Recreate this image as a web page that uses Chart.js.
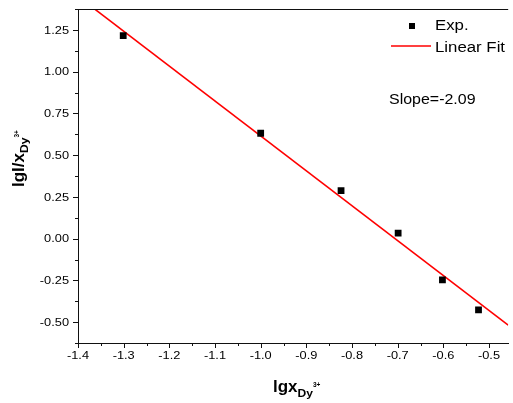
<!DOCTYPE html>
<html>
<head>
<meta charset="utf-8">
<script src="https://cdn.jsdelivr.net/npm/chart.js@4.4.1/dist/chart.umd.min.js"></script>
<style>
  html, body { margin: 0; padding: 0; background: #fff; overflow: hidden; }
  #wrap { width: 513px; height: 403px; position: relative; }
</style>
</head>
<body>
<div id="wrap"><canvas id="c" width="513" height="403"></canvas></div>
<script>
// Measured points: lg x(Dy3+) against lg(I / x(Dy3+))
const lgX = [-1.301, -1.000, -0.824, -0.699, -0.602, -0.523];
const lgIoverX = [1.216, 0.631, 0.288, 0.033, -0.247, -0.427];

// Linear fit of the points
const fitSlope = -2.09;
const fitIntercept = -1.475;
const fitRange = [-1.4, -0.458];

// Axis ticks
const xTicks = [-1.4, -1.3, -1.2, -1.1, -1.0, -0.9, -0.8, -0.7, -0.6, -0.5];
const xTickLabels = ['-1.4', '-1.3', '-1.2', '-1.1', '-1.0', '-0.9', '-0.8', '-0.7', '-0.6', '-0.5'];
const yTicks = [-0.5, -0.25, 0, 0.25, 0.5, 0.75, 1.0, 1.25];
const yTickLabels = ['-0.50', '-0.25', '0.00', '0.25', '0.50', '0.75', '1.00', '1.25'];

const slopeText = 'Slope=' + fitSlope.toFixed(2);
const FONT = '"Liberation Sans", Arial, Helvetica, sans-serif';

const scatterPts = lgX.map((x, i) => ({ x: x, y: lgIoverX[i] }));
const fitPts = fitRange.map(x => ({ x: x, y: fitIntercept + fitSlope * x }));

// minor ticks sit halfway between the labelled ones
function withMinor(major, step, min, max) {
  const out = [];
  const eps = 1e-9;
  const first = Math.ceil((min - eps) / step);
  const last = Math.floor((max + eps) / step);
  for (let k = first; k <= last; k++) {
    const v = +(k * step).toFixed(6);
    const isMajor = major.some(m => Math.abs(m - v) < 1e-6);
    out.push({ value: v, major: isMajor });
  }
  return out;
}

function stretchedText(ctx, text, x, y, font, sx, align) {
  ctx.save();
  ctx.font = font;
  ctx.textAlign = align || 'left';
  ctx.textBaseline = 'alphabetic';
  ctx.translate(x, y);
  ctx.scale(sx, 1);
  ctx.fillText(text, 0, 0);
  ctx.restore();
}

// draws runs of text along one baseline; each run may shift up/down
function richText(ctx, runs) {
  let cx = 0;
  runs.forEach(r => {
    const sx = r.sx || 1;
    ctx.save();
    ctx.font = r.font;
    ctx.textAlign = 'left';
    ctx.textBaseline = 'alphabetic';
    const w = ctx.measureText(r.text).width * sx;
    ctx.translate(cx, r.dy || 0);
    ctx.scale(sx, 1);
    ctx.fillText(r.text, 0, 0);
    ctx.restore();
    cx += w;
  });
}

const titleRuns = (main) => [
  { text: main, font: 'bold 17px ' + FONT },
  { text: 'Dy', font: 'bold 10.5px ' + FONT, dy: 4.5, sx: 1.15 },
  { text: '3+', font: 'bold 6.5px ' + FONT, dy: -5 }
];

const axesDecor = {
  id: 'axesDecor',
  afterDraw(chart) {
    const ctx = chart.ctx;
    const area = chart.chartArea;
    const xs = chart.scales.x;
    const ys = chart.scales.y;
    ctx.save();
    ctx.fillStyle = '#000';
    ctx.strokeStyle = '#111';
    ctx.lineWidth = 1;

    // top frame line
    ctx.beginPath();
    ctx.moveTo(area.left, Math.round(area.top) + 0.5);
    ctx.lineTo(area.right, Math.round(area.top) + 0.5);
    ctx.stroke();

    // x tick marks and labels
    withMinor(xTicks, 0.05, xs.min, xs.max).forEach(t => {
      const px = Math.round(xs.getPixelForValue(t.value)) + 0.5;
      ctx.beginPath();
      ctx.moveTo(px, area.bottom);
      ctx.lineTo(px, area.bottom + (t.major ? 5 : 3));
      ctx.stroke();
    });
    xTicks.forEach((v, i) => {
      stretchedText(ctx, xTickLabels[i], xs.getPixelForValue(v), area.bottom + 15.5,
        '10.5px ' + FONT, 1.22, 'center');
    });

    // y tick marks and labels
    withMinor(yTicks, 0.125, ys.min, ys.max).forEach(t => {
      const py = Math.round(ys.getPixelForValue(t.value)) + 0.5;
      ctx.beginPath();
      ctx.moveTo(area.left, py);
      ctx.lineTo(area.left - (t.major ? 5 : 3), py);
      ctx.stroke();
    });
    yTicks.forEach((v, i) => {
      stretchedText(ctx, yTickLabels[i], area.left - 9, ys.getPixelForValue(v) + 3.8,
        '10.5px ' + FONT, 1.22, 'right');
    });

    // x axis title
    ctx.save();
    ctx.translate(273, 392);
    richText(ctx, titleRuns('lgx'));
    ctx.restore();

    // y axis title, reading upwards
    ctx.save();
    ctx.translate(23.5, 187);
    ctx.rotate(-Math.PI / 2);
    richText(ctx, titleRuns('lgI/x'));
    ctx.restore();

    // legend
    const ds0 = chart.data.datasets[0];
    const ds1 = chart.data.datasets[1];
    ctx.fillStyle = ds0.backgroundColor;
    ctx.fillRect(409, 23, 6, 6);
    ctx.strokeStyle = ds1.borderColor;
    ctx.lineWidth = 1.5;
    ctx.beginPath();
    ctx.moveTo(391, 46);
    ctx.lineTo(431, 46);
    ctx.stroke();
    ctx.fillStyle = '#000';
    stretchedText(ctx, ds0.label, 435, 30, '14px ' + FONT, 1.2, 'left');
    stretchedText(ctx, ds1.label, 435, 51.5, '14px ' + FONT, 1.2, 'left');

    // slope note
    stretchedText(ctx, slopeText, 389, 104, '14px ' + FONT, 1.14, 'left');
    ctx.restore();
  }
};

new Chart(document.getElementById('c'), {
  type: 'scatter',
  data: {
    datasets: [
      {
        label: 'Exp.',
        data: scatterPts,
        pointStyle: 'rect',
        pointRadius: 4.8,
        pointHoverRadius: 4.8,
        backgroundColor: '#000',
        borderColor: '#000',
        borderWidth: 0,
        showLine: false,
        order: 0
      },
      {
        label: 'Linear Fit',
        data: fitPts,
        showLine: true,
        pointRadius: 0,
        borderColor: '#ff0000',
        borderWidth: 1.6,
        fill: false,
        clip: 0,
        order: 1
      }
    ]
  },
  options: {
    responsive: false,
    animation: false,
    devicePixelRatio: 1,
    layout: { padding: { left: 78, top: 9, right: 0, bottom: 60 } },
    plugins: { legend: { display: false }, tooltip: { enabled: false } },
    scales: {
      x: {
        type: 'linear',
        min: -1.4,
        max: fitRange[1],
        grid: { display: false, drawTicks: false, tickLength: 0 },
        border: { display: true, color: '#111', width: 1 },
        ticks: { display: false }
      },
      y: {
        type: 'linear',
        min: -0.625,
        max: 1.375,
        grid: { display: false, drawTicks: false, tickLength: 0 },
        border: { display: true, color: '#111', width: 1 },
        ticks: { display: false }
      }
    }
  },
  plugins: [axesDecor]
});
</script>
</body>
</html>
